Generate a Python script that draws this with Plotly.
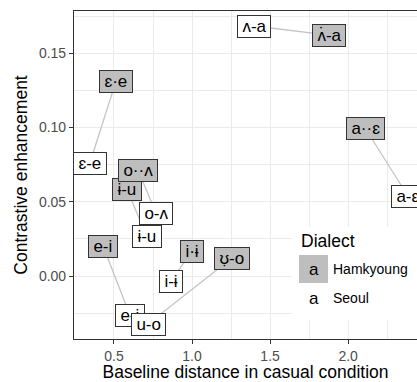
import plotly.graph_objects as go

# ---- data (label positions) ----
pairs = ["ʌ-a", "ɛ-e", "a-ɛ", "ɨ-u", "o-ʌ", "e-i", "u-o", "i-ɨ"]
labels_ham = ["ʌ̇-a", "ɛ·e", "a··ɛ", "ɨ-u", "o··ʌ", "e-i", "ʊ̣-o", "i·ɨ"]
labels_seoul = ["ʌ-a", "ɛ-e", "a-ɛ", "ɨ-u", "o-ʌ", "e-i", "u-o", "i-ɨ"]
x_ham = [1.877, 0.513, 2.108, 0.583, 0.654, 0.430, 1.256, 1.000]
y_ham = [0.1623, 0.1313, 0.0997, 0.0586, 0.0714, 0.0202, 0.0121, 0.0168]
x_seoul = [1.397, 0.346, 2.383, 0.711, 0.769, 0.602, 0.718, 0.865]
y_seoul = [0.1684, 0.0761, 0.0539, 0.0263, 0.0424, -0.0263, -0.0323, -0.0034]
legend_title = "Dialect"
dialects = ["Hamkyoung", "Seoul"]

# ---- layout constants ----
W, H = 417, 382
L, T, B, R = 74, 11, 43, 0
FONT = "Liberation Sans, Arial, DejaVu Sans, sans-serif"
HAM_FILL = "#bebebe"
SEOUL_FILL = "#ffffff"
GRID = "#ebebeb"


def px(xp):
    return (xp - L) / (W - L - R)


def py(yp):
    return (H - B - yp) / (H - B - T)


fig = go.Figure()

for i in range(len(pairs)):
    fig.add_trace(go.Scatter(
        x=[x_seoul[i], x_ham[i]], y=[y_seoul[i], y_ham[i]],
        mode="lines", line=dict(color="#c4c4c4", width=1.3),
        hoverinfo="skip", showlegend=False))

annotations = []
thin = "\u2009"
for lab, xv, yv, fill in (
        [(labels_seoul[i], x_seoul[i], y_seoul[i], SEOUL_FILL) for i in range(len(pairs))]
        + [(labels_ham[i], x_ham[i], y_ham[i], HAM_FILL) for i in range(len(pairs))]):
    annotations.append(dict(
        x=xv, y=yv, xref="x", yref="y", text=thin + lab + thin,
        showarrow=False, font=dict(family=FONT, size=17, color="#000000"),
        bgcolor=fill, bordercolor="#333333", borderwidth=1, borderpad=1,
        xanchor="center", yanchor="middle"))

# ---- manual legend ----
shapes = [
    dict(type="rect", xref="paper", yref="paper",
         x0=px(292), x1=px(417), y0=py(320), y1=py(227),
         fillcolor="#ffffff", line=dict(width=0), layer="above"),
    dict(type="rect", xref="paper", yref="paper",
         x0=px(299), x1=px(328), y0=py(283), y1=py(255),
         fillcolor=HAM_FILL, line=dict(width=0), layer="above"),
]
annotations.append(dict(x=px(299), y=py(241), xref="paper", yref="paper",
                        text=legend_title, showarrow=False, xanchor="left",
                        yanchor="middle", font=dict(family=FONT, size=17.5, color="#000000")))
for k, (name, yc) in enumerate(zip(dialects, [269, 298])):
    annotations.append(dict(x=px(313.5), y=py(yc), xref="paper", yref="paper",
                            text="a", showarrow=False, xanchor="center",
                            yanchor="middle", font=dict(family=FONT, size=17, color="#000000")))
    annotations.append(dict(x=px(331), y=py(yc), xref="paper", yref="paper",
                            text=name, showarrow=False, xanchor="left",
                            yanchor="middle", font=dict(family=FONT, size=14, color="#000000")))

fig.update_layout(
    width=W, height=H,
    margin=dict(l=L, r=R, t=T, b=B, pad=0),
    paper_bgcolor="#ffffff", plot_bgcolor="#ffffff",
    showlegend=False,
    annotations=annotations, shapes=shapes,
    font=dict(family=FONT),
)
fig.update_xaxes(
    range=[0.244, 2.441], tick0=0, dtick=0.5, tickformat=".1f",
    showgrid=True, gridcolor=GRID, gridwidth=1.1, zeroline=False,
    minor=dict(dtick=0.25, tick0=0, showgrid=True, gridcolor=GRID, gridwidth=0.6),
    showline=True, linecolor="#333333", linewidth=1.1, mirror=True,
    ticks="outside", ticklen=4, tickcolor="#333333", tickwidth=1,
    tickfont=dict(family=FONT, size=14, color="#4d4d4d"),
    title=dict(text="Baseline distance in casual condition",
               font=dict(family=FONT, size=17.5, color="#000000"), standoff=4),
)
fig.update_yaxes(
    range=[-0.0424, 0.1785], tick0=0, dtick=0.05, tickformat=".2f",
    showgrid=True, gridcolor=GRID, gridwidth=1.1, zeroline=False,
    minor=dict(dtick=0.025, tick0=0, showgrid=True, gridcolor=GRID, gridwidth=0.6),
    showline=True, linecolor="#333333", linewidth=1.1,
    ticks="outside", ticklen=4, tickcolor="#333333", tickwidth=1,
    tickfont=dict(family=FONT, size=14, color="#4d4d4d"),
    title=dict(text="Contrastive enhancement",
               font=dict(family=FONT, size=17.5, color="#000000"), standoff=6),
)

fig.write_html("out.html", config={"displayModeBar": False},
               post_script="document.body.style.margin='0';document.body.style.overflow='hidden';")
